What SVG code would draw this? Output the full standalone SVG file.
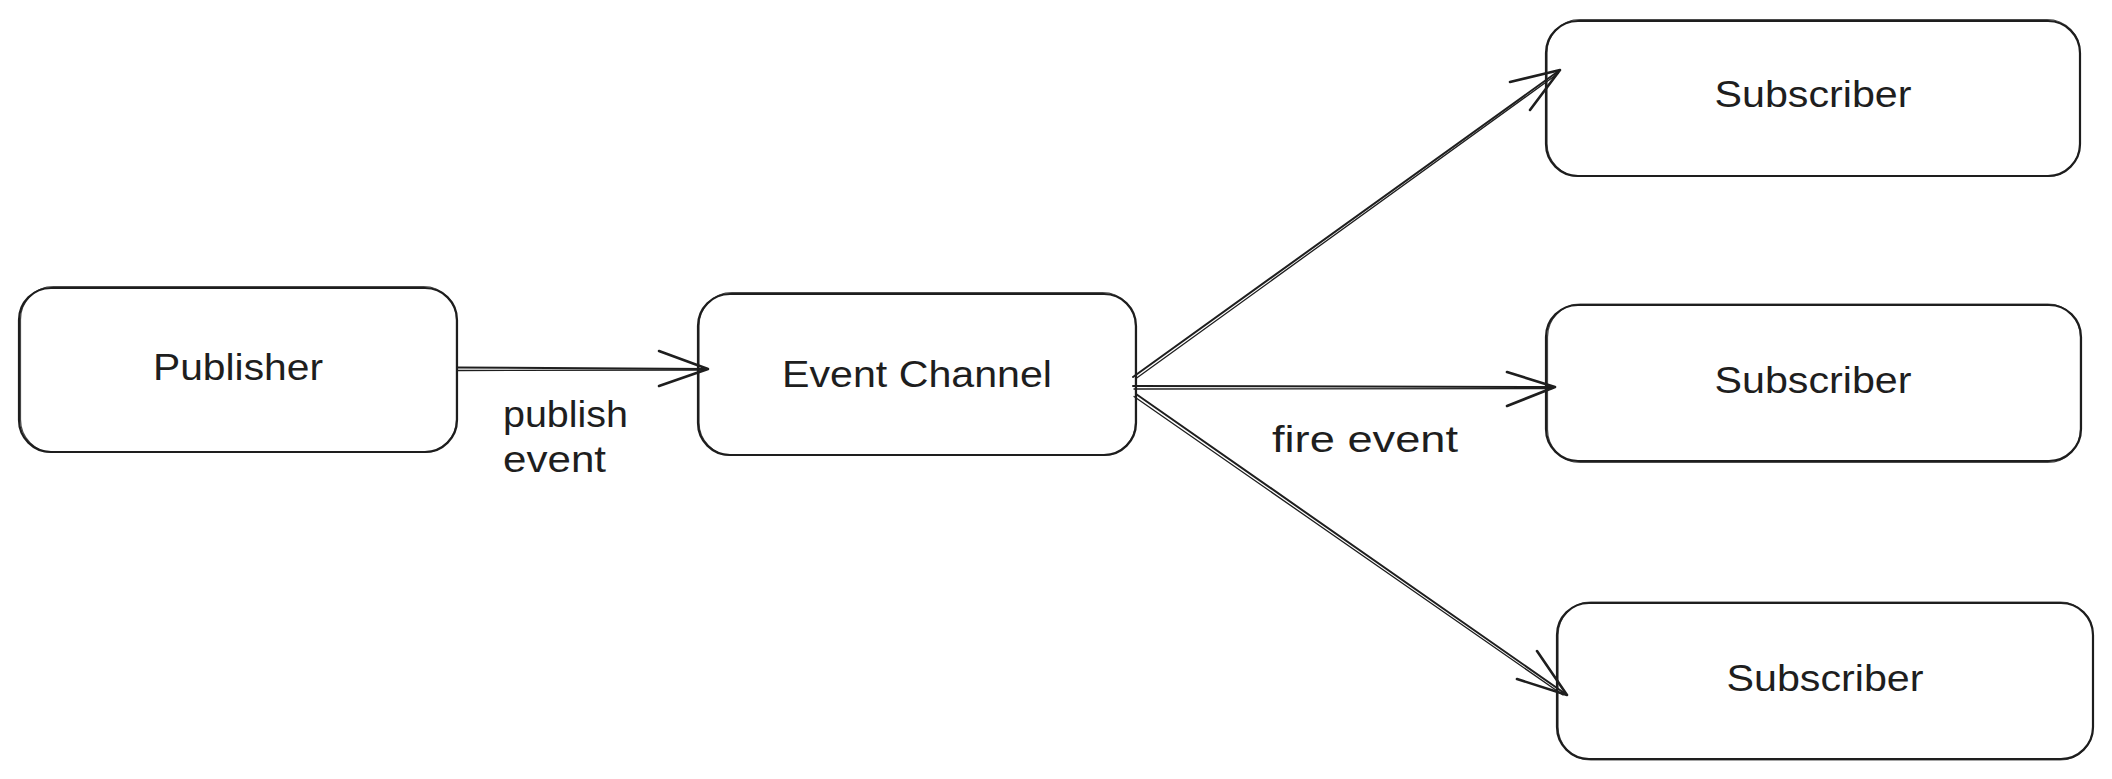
<svg xmlns="http://www.w3.org/2000/svg" width="2112" height="779" viewBox="0 0 2112 779">
<style>
  .bg { fill: #ffffff; }
  .box { fill: #ffffff; stroke: #1e1e1e; stroke-width: 2.2; }
  .box2 { fill: none; stroke: #1e1e1e; stroke-width: 1.2; opacity: 0.8; }
  .lbl { font-family: "Liberation Sans", Arial, sans-serif; font-size: 36px; fill: #1e1e1e; }
  .mid { text-anchor: middle; }
  .ln { fill: none; stroke: #1e1e1e; stroke-width: 2; stroke-linecap: round; stroke-linejoin: round; }
  .ln2 { fill: none; stroke: #1e1e1e; stroke-width: 1.3; stroke-linecap: round; }
  .head { fill: none; stroke: #1e1e1e; stroke-width: 2.6; stroke-linecap: round; stroke-linejoin: round; }
</style>
<rect class="bg" x="0" y="0" width="2112" height="779"/>

<g id="node-publisher">
  <rect class="box" x="19" y="288" width="438" height="164" rx="32" ry="32"/>
  <rect class="box2" x="20.5" y="286.5" width="436" height="166" rx="33" ry="33"/>
  <text class="lbl mid" x="238" y="380" textLength="170" lengthAdjust="spacingAndGlyphs">Publisher</text>
</g>

<g id="node-channel">
  <rect class="box" x="698" y="294" width="438" height="161" rx="32" ry="32"/>
  <rect class="box2" x="699" y="292.5" width="436.5" height="163" rx="33" ry="33"/>
  <text class="lbl mid" x="917" y="387" textLength="270" lengthAdjust="spacingAndGlyphs">Event Channel</text>
</g>

<g id="node-sub1">
  <rect class="box" x="1546" y="21" width="534" height="155" rx="32" ry="32"/>
  <rect class="box2" x="1547" y="19.5" width="533" height="157" rx="33" ry="33"/>
  <text class="lbl mid" x="1813" y="107" textLength="197" lengthAdjust="spacingAndGlyphs">Subscriber</text>
</g>

<g id="node-sub2">
  <rect class="box" x="1546" y="305" width="535" height="156" rx="32" ry="32"/>
  <rect class="box2" x="1547.5" y="304" width="533" height="158.5" rx="33" ry="33"/>
  <text class="lbl mid" x="1813" y="393" textLength="197" lengthAdjust="spacingAndGlyphs">Subscriber</text>
</g>

<g id="node-sub3">
  <rect class="box" x="1557" y="603" width="536" height="156" rx="32" ry="32"/>
  <rect class="box2" x="1558" y="602" width="535" height="158" rx="33" ry="33"/>
  <text class="lbl mid" x="1825" y="691" textLength="197" lengthAdjust="spacingAndGlyphs">Subscriber</text>
</g>

<g id="connectors">
  <g id="edge-publisher-channel">
    <path class="ln" d="M457 367.5 L708 369"/>
    <path class="ln2" d="M458 370.5 L705 370"/>
    <path class="head" d="M659 351 L708 369 L659 386"/>
    <text class="lbl" x="503" y="427" textLength="125" lengthAdjust="spacingAndGlyphs">publish</text>
    <text class="lbl" x="503" y="472" textLength="103" lengthAdjust="spacingAndGlyphs">event</text>
  </g>
  <g id="edge-channel-sub1">
    <path class="ln" d="M1133 377 L1560 70"/>
    <path class="ln2" d="M1136 378.5 L1558 73.5"/>
    <path class="head" d="M1510 82 L1560 70 L1530 110"/>
  </g>
  <g id="edge-channel-sub2">
    <path class="ln" d="M1133 386 L1555 387"/>
    <path class="ln2" d="M1134 389 L1552 388.5"/>
    <path class="head" d="M1507 372 L1555 387 L1507 406"/>
    <text class="lbl" x="1272" y="452" textLength="186" lengthAdjust="spacingAndGlyphs">fire event</text>
  </g>
  <g id="edge-channel-sub3">
    <path class="ln" d="M1136 394 L1567 695"/>
    <path class="ln2" d="M1134 396.5 L1563 695"/>
    <path class="head" d="M1537 651 L1567 695 L1517 679"/>
  </g>
</g>
</svg>
